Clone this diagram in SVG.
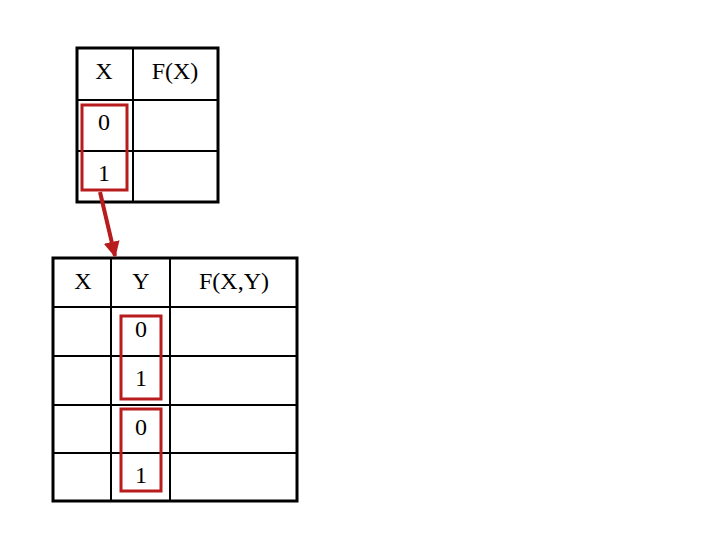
<svg xmlns="http://www.w3.org/2000/svg" width="720" height="540" viewBox="0 0 720 540">
<defs>
<style>
.o{fill:none;stroke:#000;stroke-width:3}
.i{stroke:#000;stroke-width:2}
.r{fill:none;stroke:#b81c1c;stroke-width:3}
text{font-family:"Liberation Serif",serif;font-size:24px;fill:#000;text-anchor:middle}
</style>
<marker id="ah" viewBox="0 0 10 10" refX="9" refY="5" markerWidth="4" markerHeight="4" orient="auto"><path d="M0,0L10,5L0,10z" fill="#b81c1c"/></marker>
</defs>
<g id="tableX">
<rect class="o" x="77" y="48" width="141" height="154"/>
<line class="i" x1="133" y1="48" x2="133" y2="202"/>
<line class="i" x1="77" y1="100" x2="218" y2="100"/>
<line class="i" x1="77" y1="151" x2="218" y2="151"/>
<text x="104" y="79">X</text><text x="175" y="79">F(X)</text>
<text x="104" y="130">0</text><text x="104" y="181">1</text>
<rect class="r" x="82" y="105" width="45" height="85"/>
</g>
<g id="tableXY">
<rect class="o" x="53" y="258" width="244" height="243"/>
<line class="i" x1="111" y1="258" x2="111" y2="501"/>
<line class="i" x1="170" y1="258" x2="170" y2="501"/>
<line class="i" x1="53" y1="307" x2="297" y2="307"/>
<line class="i" x1="53" y1="356" x2="297" y2="356"/>
<line class="i" x1="53" y1="405" x2="297" y2="405"/>
<line class="i" x1="53" y1="453" x2="297" y2="453"/>
<text x="83" y="289">X</text><text x="141" y="289">Y</text><text x="234" y="289">F(X,Y)</text>
<text x="141" y="337">0</text><text x="141" y="386">1</text><text x="141" y="435">0</text><text x="141" y="483">1</text>
<rect class="r" x="121" y="316" width="40" height="83"/>
<rect class="r" x="121" y="409" width="40" height="82"/>
</g>
<g id="connectors">
<line x1="100" y1="192" x2="115" y2="256" stroke="#b81c1c" stroke-width="4" marker-end="url(#ah)"/>
</g>
</svg>
